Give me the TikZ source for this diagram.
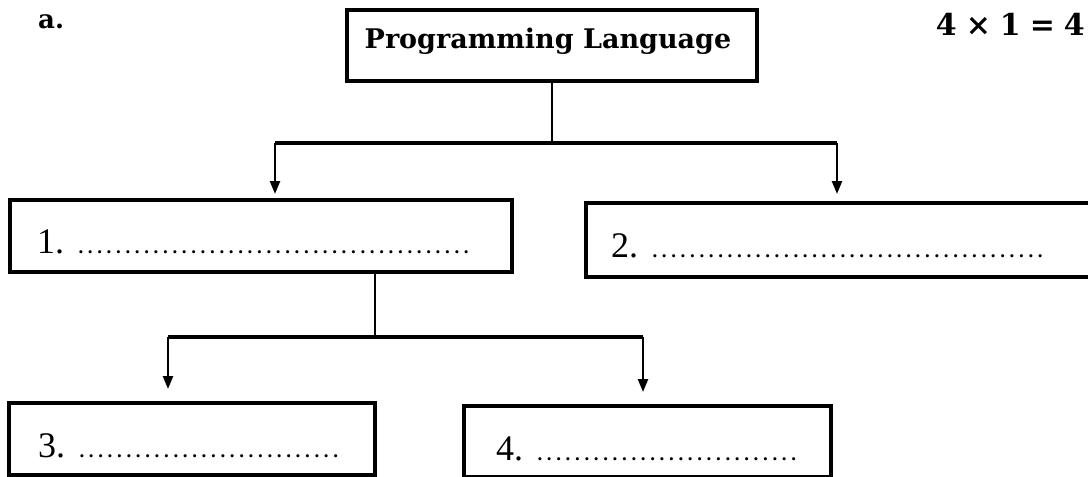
\documentclass[tikz,border=0pt]{standalone}
\usepackage{fontspec}
\setmainfont{Liberation Serif}
\newfontfamily\headfont{DejaVu Serif}
\usetikzlibrary{arrows.meta}
\newcommand{\dotrow}[1]{\hbox to #1{\fontsize{19}{19}\selectfont\bfseries\leaders\hbox to 9.4pt{\hss.\hss}\hfill}}
\begin{document}
\begin{tikzpicture}[x=1pt,y=-1pt,
  box/.style={draw, line width=3.2pt, rectangle, inner sep=0pt},
  conn/.style={line width=2.4pt},
  bar/.style={line width=3.6pt},
  arr/.style={line width=2.4pt, -{Triangle[length=13pt,width=10pt]}},
  numtext/.style={anchor=base west, inner sep=0pt, font=\fontsize{36}{36}\selectfont},
  headtext/.style={inner sep=0pt, font=\headfont\bfseries\fontsize{27}{27}\selectfont}]
\useasboundingbox (0,0) rectangle (1088,477);
\clip (0,0) rectangle (1088,477);
% corner labels
\node[inner sep=0pt, font=\headfont\bfseries\fontsize{26}{26}\selectfont, anchor=base west] (lbl) at (38,28) {a.};
\node[inner sep=0pt, font=\headfont\bfseries\fontsize{30}{30}\selectfont, anchor=base east] (marks) at (1085,35) {4\hspace{9pt}×\hspace{9pt}1\hspace{9pt}=\hspace{9pt}4};
% boxes
\node[box, minimum width=410pt, minimum height=71pt] (pl) at (552,45.5) {};
\node[headtext, anchor=base] (plt) at (548,48) {Programming Language};
\node[box, minimum width=502pt, minimum height=72pt] (b1) at (261,236) {};
\node[box, minimum width=509pt, minimum height=74pt] (b2) at (840.5,240) {};
\node[box, minimum width=366pt, minimum height=72pt] (b3) at (192,439) {};
\node[box, minimum width=367pt, minimum height=71pt] (b4) at (647.5,441.5) {};
% texts
\node[numtext] (t1) at (37,253) {1.\hspace{12pt}\dotrow{396pt}};
\node[numtext] (t2) at (611,257) {2.\hspace{12pt}\dotrow{400pt}};
\node[numtext] (t3) at (38,457) {3.\hspace{12pt}\dotrow{272pt}};
\node[numtext] (t4) at (496,460) {4.\hspace{12pt}\dotrow{272pt}};
% connectors level 1
\coordinate (j1) at (552,143);
\coordinate (j1w) at (275,143);
\coordinate (j1e) at (837,143);
\coordinate (tip1) at (275,194);
\coordinate (tip2) at (837,194);
\draw[conn] (pl.south) -- (j1);
\draw[bar] (j1w) -- (j1e);
\draw[arr] (j1w) -- (tip1);
\draw[arr] (j1e) -- (tip2);
% connectors level 2
\coordinate (j2) at (375,337);
\coordinate (j2w) at (168,337);
\coordinate (j2e) at (643,337);
\coordinate (tip3) at (168,389);
\coordinate (tip4) at (643,392);
\draw[conn] (b1.south -| j2) -- (j2);
\draw[bar] (j2w) -- (j2e);
\draw[arr] (j2w) -- (tip3);
\draw[arr] (j2e) -- (tip4);
\end{tikzpicture}
\end{document}
